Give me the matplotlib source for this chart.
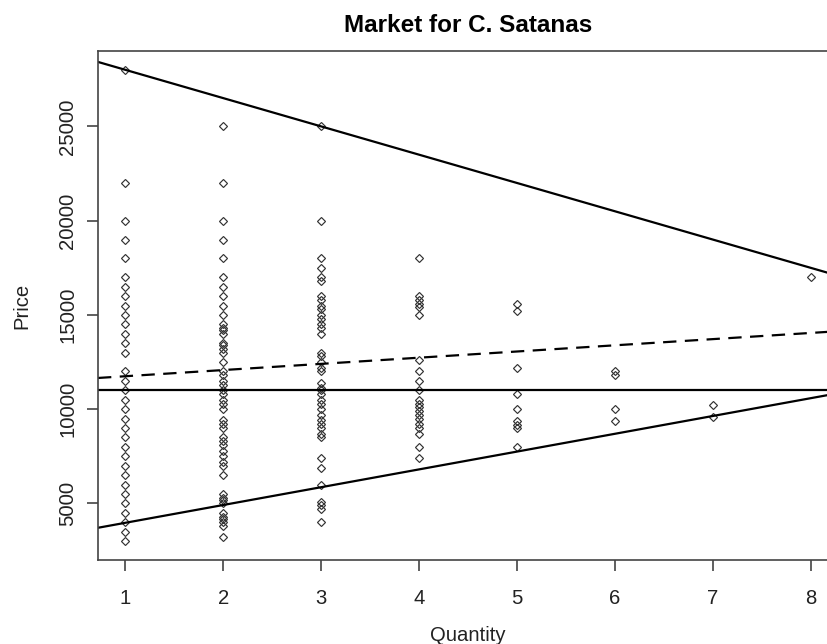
import matplotlib
matplotlib.use("Agg")
import matplotlib.pyplot as plt
import numpy as np

plt.rcParams['font.family'] = ['Liberation Sans', 'DejaVu Sans']

# ---- data: prices observed at each quantity ----
quantities = [1, 2, 3, 4, 5, 6, 7, 8]
prices_q1 = [28000, 22000, 20000, 19000, 18000, 17000, 16500, 16000, 15500, 15000,
             14500, 14000, 13500, 13000, 12000, 11500, 11000, 10500, 10000, 9500,
             9000, 8500, 8000, 7500, 7000, 6500, 6000, 5500, 5000, 4500, 4000,
             3500, 3000]
prices_q2 = [25000, 22000, 20000, 19000, 18000, 17000, 16500, 16000, 15500, 15000,
             14500, 14300, 14200, 14000, 13500, 13400, 13200, 13000, 12500, 12000,
             11800, 11500, 11300, 11000, 10800, 10500, 10300, 10000, 9400, 9200,
             9000, 8500, 8300, 8100, 7800, 7500, 7200, 7000, 6500, 5500, 5300,
             5200, 5000, 4500, 4300, 4200, 4000, 3800, 3200]
prices_q3 = [25000, 20000, 18000, 17500, 17000, 16800, 16000, 15800, 15500, 15300,
             15000, 14800, 14500, 14300, 14000, 13000, 12800, 12500, 12200, 12000,
             11400, 11100, 11000, 10800, 10500, 10300, 10000, 9700, 9400, 9200,
             9000, 8700, 8500, 7400, 6900, 6000, 5100, 4900, 4700, 4000]
prices_q4 = [18000, 16000, 15800, 15600, 15400, 15000, 12600, 12000, 11500, 11000,
             10500, 10300, 10100, 9900, 9700, 9500, 9200, 9000, 8700, 8000, 7400]
prices_q5 = [15600, 15200, 12200, 10800, 10000, 9350, 9150, 9000, 8000]
prices_q6 = [12000, 11800, 10000, 9350]
prices_q7 = [10200, 9600]
prices_q8 = [17000]
price_groups = [prices_q1, prices_q2, prices_q3, prices_q4,
                prices_q5, prices_q6, prices_q7, prices_q8]

# reference lines: (intercept, slope)
upper_line = (29500, -1500)
lower_line = (3030, 944)
fit_line = (11420, 328)
mean_price = 11000

x_ticks = [1, 2, 3, 4, 5, 6, 7, 8]
y_ticks = [5000, 10000, 15000, 20000, 25000]

# ---- figure ----
W, H, DPI = 827, 644, 100
fig = plt.figure(figsize=(W / DPI, H / DPI), dpi=DPI)
left_px, right_px, top_px, bot_px = 98, 838, 51, 560
ax = fig.add_axes([left_px / W, (H - bot_px) / H,
                   (right_px - left_px) / W, (bot_px - top_px) / H])

xs = np.concatenate([[q] * len(p) for q, p in zip(quantities, price_groups)])
ys = np.concatenate(price_groups)
ax.plot(xs, ys, linestyle='none', marker='D', markersize=4.1,
        markerfacecolor='none', markeredgecolor='#333333', markeredgewidth=0.85)

lw = 1.6
ax.axline((0, upper_line[0]), slope=upper_line[1], color='black', lw=lw)
ax.axline((0, lower_line[0]), slope=lower_line[1], color='black', lw=lw)
ax.axline((0, fit_line[0]), slope=fit_line[1], color='black', lw=lw,
          linestyle=(0, (6.0, 3.8)))
ax.axhline(mean_price, color='black', lw=lw)

ax.set_xlim(0.72, 8.28)
ax.set_ylim(2000, 29000)
ax.set_xticks(x_ticks)
ax.set_yticks(y_ticks)
ax.set_xticklabels([str(v) for v in x_ticks])
ax.set_yticklabels([str(v) for v in y_ticks], rotation=90, va='center')

for s in ax.spines.values():
    s.set_color('#444444')
    s.set_linewidth(1.2)

ax.tick_params(axis='both', direction='out', length=8, width=1.2,
               color='#444444', labelsize=14.6, labelcolor='#222222')
ax.tick_params(axis='x', pad=13)
ax.tick_params(axis='y', pad=6.8)

ax.set_title('Market for C. Satanas', fontsize=17.5, fontweight='bold', pad=14)
ax.set_xlabel('Quantity', fontsize=14.6, color='#222222')
ax.set_ylabel('Price', fontsize=14.6, color='#222222')
ax.xaxis.set_label_coords(0.5, -0.1306)
ax.yaxis.set_label_coords(-0.0905, 0.5)

fig.savefig('out.png', dpi=DPI)
